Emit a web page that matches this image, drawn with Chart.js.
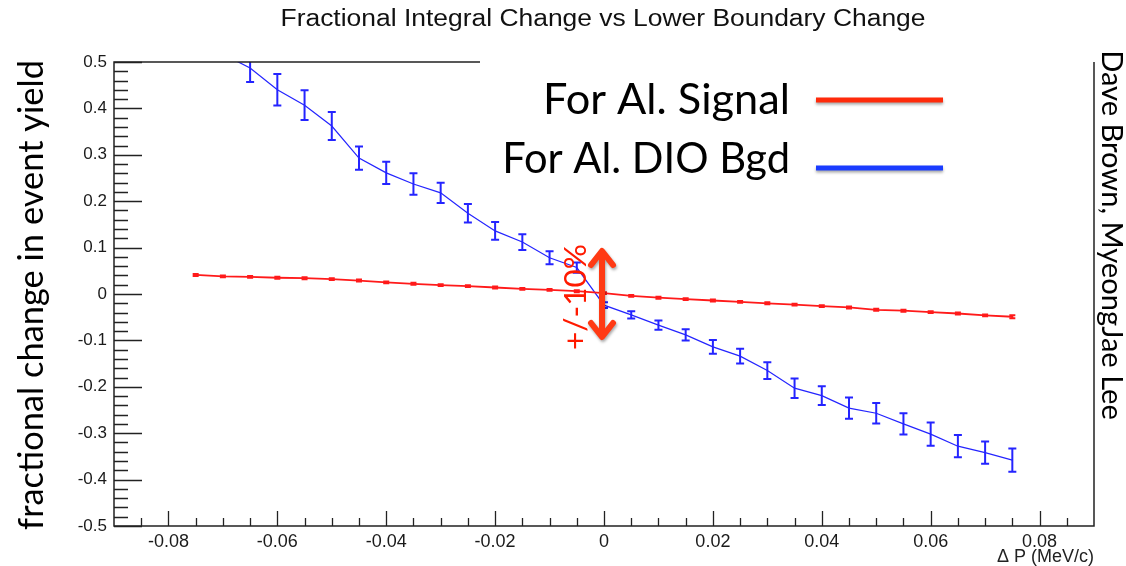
<!DOCTYPE html>
<html>
<head>
<meta charset="utf-8">
<script src="https://cdn.jsdelivr.net/npm/chart.js@4.4.0/dist/chart.umd.min.js"></script>
<style>
  html, body { margin: 0; padding: 0; background: #fff; }
  canvas { display: block; }
</style>
</head>
<body>
<canvas id="myChart" width="1126" height="566"></canvas>
<script>
// delta P values (MeV/c)
var dpSignal = [-0.075, -0.07, -0.065, -0.06, -0.055, -0.05, -0.045, -0.04, -0.035, -0.03,
  -0.025, -0.02, -0.015, -0.01, -0.005, 0, 0.005, 0.01, 0.015, 0.02,
  0.025, 0.03, 0.035, 0.04, 0.045, 0.05, 0.055, 0.06, 0.065, 0.07, 0.075];
var signalVals = [0.041, 0.038, 0.037, 0.035, 0.034, 0.032, 0.029, 0.025, 0.022, 0.019,
  0.017, 0.014, 0.011, 0.009, 0.006, 0.002, -0.004, -0.008, -0.011, -0.014,
  -0.017, -0.020, -0.023, -0.026, -0.029, -0.034, -0.036, -0.039, -0.042, -0.046, -0.049];
var signalErr = [0.002, 0.002, 0.002, 0.002, 0.002, 0.002, 0.002, 0.002, 0.002, 0.002,
  0.002, 0.002, 0.002, 0.002, 0.002, 0.002, 0.002, 0.002, 0.002, 0.002,
  0.002, 0.002, 0.002, 0.002, 0.002, 0.002, 0.002, 0.002, 0.002, 0.002, 0.003];

var dpBgd = [-0.07, -0.065, -0.06, -0.055, -0.05, -0.045, -0.04, -0.035, -0.03, -0.025,
  -0.02, -0.015, -0.01, -0.005, 0, 0.005, 0.01, 0.015, 0.02, 0.025,
  0.03, 0.035, 0.04, 0.045, 0.05, 0.055, 0.06, 0.065, 0.07, 0.075];
var bgdVals = [0.517, 0.487, 0.44, 0.407, 0.362, 0.293, 0.261, 0.237, 0.218, 0.174,
  0.136, 0.112, 0.078, 0.057, -0.024, -0.045, -0.067, -0.088, -0.114, -0.134,
  -0.165, -0.203, -0.219, -0.246, -0.257, -0.280, -0.302, -0.328, -0.342, -0.358];
var bgdErr = [0, 0.03, 0.034, 0.032, 0.030, 0.025, 0.024, 0.023, 0.022, 0.020,
  0.019, 0.017, 0.014, 0.011, 0.006, 0.008, 0.010, 0.012, 0.015, 0.016,
  0.018, 0.021, 0.020, 0.023, 0.022, 0.023, 0.025, 0.024, 0.024, 0.025];

var xTicks = [-0.08, -0.06, -0.04, -0.02, 0, 0.02, 0.04, 0.06, 0.08];
var yTicks = [-0.5, -0.4, -0.3, -0.2, -0.1, 0, 0.1, 0.2, 0.3, 0.4, 0.5];

var titleText = "Fractional Integral Change vs Lower Boundary Change";
var yTitle = "fractional change in event yield";
var xTitle = "\u0394 P (MeV/c)";
var authors = "Dave Brown, MyeongJae Lee";
var arrowNote = "+/-10%";

function fitSize(ctx, text, family, width) {
  ctx.font = "100px " + family;
  return 100 * width / ctx.measureText(text).width;
}

var decor = {
  id: "decor",
  afterDatasetsDraw(chart) {
    var ctx = chart.ctx, a = chart.chartArea, ys = chart.scales.y;
    ctx.save();
    ctx.beginPath();
    ctx.rect(a.left, a.top, a.right - a.left, a.bottom - a.top);
    ctx.clip();
    chart.data.datasets.forEach(function (ds, i) {
      var meta = chart.getDatasetMeta(i);
      ctx.strokeStyle = ds.borderColor;
      ctx.lineWidth = ds.errWidth;
      meta.data.forEach(function (pt, j) {
        var v = ds.data[j].y, e = ds.errors[j];
        if (!e) return;
        var y1 = ys.getPixelForValue(v + e), y2 = ys.getPixelForValue(v - e);
        ctx.beginPath();
        ctx.moveTo(pt.x, y1); ctx.lineTo(pt.x, y2);
        ctx.moveTo(pt.x - ds.capHalf, y1); ctx.lineTo(pt.x + ds.capHalf, y1);
        ctx.moveTo(pt.x - ds.capHalf, y2); ctx.lineTo(pt.x + ds.capHalf, y2);
        ctx.stroke();
      });
    });
    ctx.restore();
  },
  afterDraw(chart) {
    var ctx = chart.ctx, a = chart.chartArea, xs = chart.scales.x, ys = chart.scales.y;
    ctx.save();
    // frame
    ctx.strokeStyle = "#222";
    ctx.lineWidth = 1.5;
    ctx.beginPath();
    ctx.moveTo(480, a.top); ctx.lineTo(a.left, a.top);
    ctx.lineTo(a.left, a.bottom); ctx.lineTo(a.right, a.bottom);
    ctx.lineTo(a.right, a.top);
    ctx.stroke();
    // ticks
    ctx.lineWidth = 1.3;
    ctx.beginPath();
    for (var k = -25; k <= 25; k++) {
      var py = Math.round(ys.getPixelForValue(k * 0.02)) + 0.5;
      var len = (k % 5 === 0) ? 28 : 14;
      ctx.moveTo(a.left, py); ctx.lineTo(a.left + len, py);
    }
    for (var m = -17; m <= 17; m++) {
      var px = Math.round(xs.getPixelForValue(m * 0.005)) + 0.5;
      var l2 = (m % 4 === 0) ? 15 : 8;
      ctx.moveTo(px, a.bottom); ctx.lineTo(px, a.bottom - l2);
    }
    ctx.stroke();

    // title
    ctx.fillStyle = "#111";
    ctx.font = "23px 'Liberation Sans'";
    ctx.textAlign = "center";
    ctx.textBaseline = "middle";
    var tw = ctx.measureText(titleText).width;
    ctx.save();
    ctx.translate(603, 20);
    ctx.scale(645 / tw, 1);
    ctx.fillText(titleText, 0, 0);
    ctx.restore();

    // x axis title
    ctx.font = "18px 'Liberation Sans'";
    ctx.textAlign = "right";
    ctx.fillStyle = "#222";
    ctx.fillText(xTitle, a.right, 557);

    // y axis title
    ctx.fillStyle = "#000";
    var s = fitSize(ctx, yTitle, "Lato", 470);
    ctx.font = s + "px Lato";
    ctx.save();
    ctx.translate(32, 295);
    ctx.rotate(-Math.PI / 2);
    ctx.textAlign = "center";
    ctx.fillText(yTitle, 0, 0);
    ctx.restore();

    // authors on the right
    s = fitSize(ctx, authors, "Lato", 370);
    ctx.font = s + "px Lato";
    ctx.save();
    ctx.translate(1111, 235);
    ctx.rotate(Math.PI / 2);
    ctx.textAlign = "center";
    ctx.fillText(authors, 0, 0);
    ctx.restore();

    // legend
    var ds = chart.data.datasets;
    var rows = [[ds[0], 100, 247, "#ff2a0a", 100], [ds[1], 160, 288, "#1a3cff", 168]];
    rows.forEach(function (r) {
      ctx.fillStyle = "#000";
      var fs = fitSize(ctx, r[0].label, "Lato", r[2]);
      ctx.font = fs + "px Lato";
      ctx.textAlign = "right";
      ctx.fillText(r[0].label, 790, r[1]);
      ctx.save();
      ctx.shadowColor = "rgba(0,0,0,0.35)";
      ctx.shadowBlur = 3;
      ctx.shadowOffsetY = 2;
      ctx.strokeStyle = r[3];
      ctx.lineWidth = 5;
      ctx.beginPath();
      ctx.moveTo(816, r[4]); ctx.lineTo(943, r[4]);
      ctx.stroke();
      ctx.restore();
    });

    // +/-10% arrow
    ctx.save();
    ctx.shadowColor = "rgba(0,0,0,0.35)";
    ctx.shadowBlur = 3;
    ctx.shadowOffsetX = 1;
    ctx.shadowOffsetY = 2;
    ctx.strokeStyle = "#ff3a14";
    ctx.lineWidth = 6;
    ctx.lineCap = "round";
    ctx.lineJoin = "round";
    var ax = xs.getPixelForValue(0) - 2;
    ctx.beginPath();
    ctx.moveTo(ax, 252); ctx.lineTo(ax, 336);
    ctx.moveTo(ax - 11, 265); ctx.lineTo(ax, 251); ctx.lineTo(ax + 11, 265);
    ctx.moveTo(ax - 11, 323); ctx.lineTo(ax, 337); ctx.lineTo(ax + 11, 323);
    ctx.stroke();
    ctx.restore();

    ctx.fillStyle = "#ff1a00";
    s = fitSize(ctx, arrowNote, "Lato", 106);
    ctx.font = s + "px Lato";
    ctx.save();
    ctx.translate(576, 297);
    ctx.rotate(-Math.PI / 2);
    ctx.textAlign = "center";
    ctx.textBaseline = "middle";
    ctx.fillText(arrowNote, 0, 0);
    ctx.restore();

    ctx.restore();
  }
};

var ctx = document.getElementById("myChart");
var chart = new Chart(ctx, {
  type: "line",
  data: {
    datasets: [
      {
        label: "For Al. Signal",
        data: dpSignal.map(function (x, i) { return { x: x, y: signalVals[i] }; }),
        errors: signalErr,
        borderColor: "#ff1a1a",
        borderWidth: 1.8,
        pointRadius: 0,
        tension: 0,
        errWidth: 2,
        capHalf: 3
      },
      {
        label: "For Al. DIO Bgd",
        data: dpBgd.map(function (x, i) { return { x: x, y: bgdVals[i] }; }),
        errors: bgdErr,
        borderColor: "#2424ff",
        borderWidth: 1.2,
        pointRadius: 0,
        tension: 0,
        errWidth: 2,
        capHalf: 4
      }
    ]
  },
  options: {
    responsive: false,
    animation: false,
    devicePixelRatio: 1,
    layout: { padding: { top: 62, right: 32, left: 0, bottom: 0 } },
    plugins: { legend: { display: false }, tooltip: { enabled: false } },
    scales: {
      x: {
        type: "linear",
        min: -0.09,
        max: 0.09,
        afterFit: function (scale) { scale.height = 40; },
        afterBuildTicks: function (scale) {
          scale.ticks = xTicks.map(function (v) { return { value: v }; });
        },
        grid: { display: false, drawTicks: false },
        border: { display: false },
        ticks: {
          padding: 5,
          color: "#1a1a1a",
          maxRotation: 0,
          font: { family: "'Liberation Sans'", size: 18 },
          callback: function (v) { return String(parseFloat(v.toFixed(3))); }
        }
      },
      y: {
        type: "linear",
        min: -0.5,
        max: 0.5,
        afterFit: function (scale) { scale.width = 114; },
        afterBuildTicks: function (scale) {
          scale.ticks = yTicks.map(function (v) { return { value: v }; });
        },
        grid: { display: false, drawTicks: false },
        border: { display: false },
        ticks: {
          padding: 7,
          color: "#1a1a1a",
          font: { family: "'Liberation Sans'", size: 17 },
          callback: function (v) { return String(parseFloat(v.toFixed(3))); }
        }
      }
    }
  },
  plugins: [decor]
});
</script>
</body>
</html>
